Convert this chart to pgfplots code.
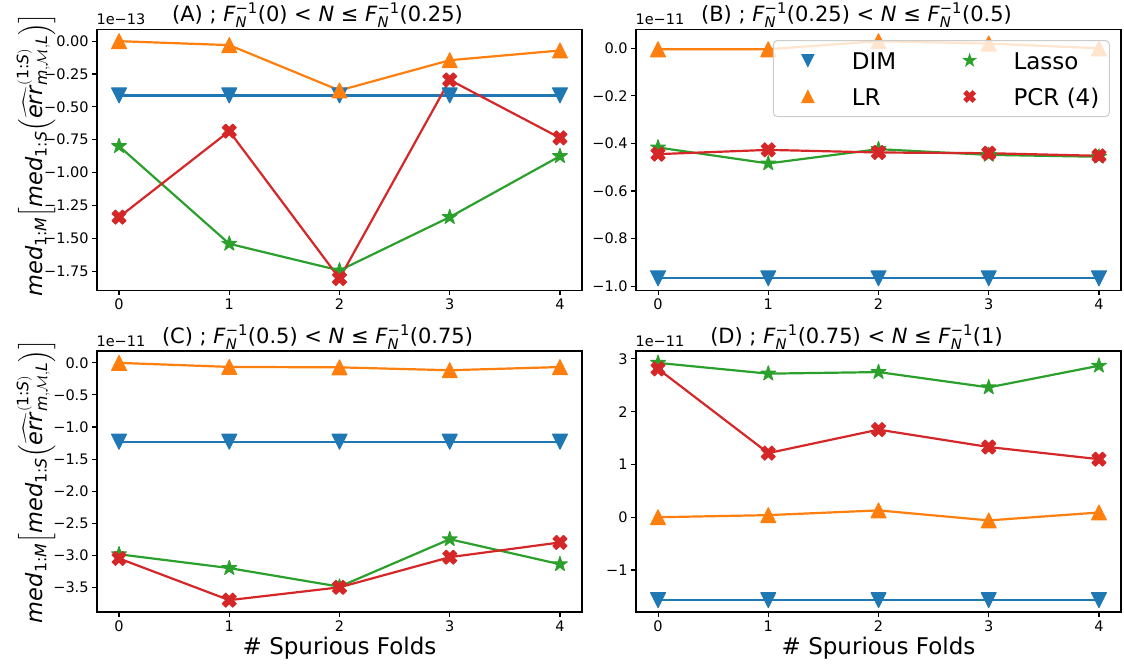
\documentclass[border=0pt]{standalone}
\usepackage{amsmath}
\usepackage{pgfplots}
\pgfplotsset{compat=1.18}
\usepackage{fontspec}
\setmainfont{DejaVu Sans}

\definecolor{tabblue}{HTML}{1F77B4}
\definecolor{taborange}{HTML}{FF7F0E}
\definecolor{tabgreen}{HTML}{2CA02C}
\definecolor{tabred}{HTML}{D62728}

\newcommand\tickfont{\fontsize{14.5}{17}\selectfont}
\newcommand\titlefont{\fontsize{21}{25}\selectfont}
\newcommand\labfont{\fontsize{23}{27}\selectfont}
\newcommand\ylabfont{\fontsize{22.5}{27}\selectfont}
\newcommand\legfont{\fontsize{23}{27}\selectfont}

\pgfdeclareplotmark{mtriup}{%
 \pgfpathmoveto{\pgfpoint{0pt}{\pgfplotmarksize}}%
 \pgfpathlineto{\pgfpoint{-\pgfplotmarksize}{-\pgfplotmarksize}}%
 \pgfpathlineto{\pgfpoint{\pgfplotmarksize}{-\pgfplotmarksize}}%
 \pgfpathclose\pgfusepathqfillstroke}
\pgfdeclareplotmark{mtridown}{%
 \pgfpathmoveto{\pgfpoint{0pt}{-\pgfplotmarksize}}%
 \pgfpathlineto{\pgfpoint{-\pgfplotmarksize}{\pgfplotmarksize}}%
 \pgfpathlineto{\pgfpoint{\pgfplotmarksize}{\pgfplotmarksize}}%
 \pgfpathclose\pgfusepathqfillstroke}
\pgfdeclareplotmark{mstar}{%
 \pgfpathmoveto{\pgfpointpolar{90}{\pgfplotmarksize}}%
 \pgfpathlineto{\pgfpointpolar{126}{0.382\pgfplotmarksize}}%
 \pgfpathlineto{\pgfpointpolar{162}{\pgfplotmarksize}}%
 \pgfpathlineto{\pgfpointpolar{198}{0.382\pgfplotmarksize}}%
 \pgfpathlineto{\pgfpointpolar{234}{\pgfplotmarksize}}%
 \pgfpathlineto{\pgfpointpolar{270}{0.382\pgfplotmarksize}}%
 \pgfpathlineto{\pgfpointpolar{306}{\pgfplotmarksize}}%
 \pgfpathlineto{\pgfpointpolar{342}{0.382\pgfplotmarksize}}%
 \pgfpathlineto{\pgfpointpolar{18}{\pgfplotmarksize}}%
 \pgfpathlineto{\pgfpointpolar{54}{0.382\pgfplotmarksize}}%
 \pgfpathclose\pgfusepathqfillstroke}
\pgfdeclareplotmark{mX}{%
 \pgftransformrotate{45}%
 \pgfpathmoveto{\pgfpoint{0.333\pgfplotmarksize}{\pgfplotmarksize}}%
 \pgfpathlineto{\pgfpoint{0.333\pgfplotmarksize}{0.333\pgfplotmarksize}}%
 \pgfpathlineto{\pgfpoint{\pgfplotmarksize}{0.333\pgfplotmarksize}}%
 \pgfpathlineto{\pgfpoint{\pgfplotmarksize}{-0.333\pgfplotmarksize}}%
 \pgfpathlineto{\pgfpoint{0.333\pgfplotmarksize}{-0.333\pgfplotmarksize}}%
 \pgfpathlineto{\pgfpoint{0.333\pgfplotmarksize}{-\pgfplotmarksize}}%
 \pgfpathlineto{\pgfpoint{-0.333\pgfplotmarksize}{-\pgfplotmarksize}}%
 \pgfpathlineto{\pgfpoint{-0.333\pgfplotmarksize}{-0.333\pgfplotmarksize}}%
 \pgfpathlineto{\pgfpoint{-\pgfplotmarksize}{-0.333\pgfplotmarksize}}%
 \pgfpathlineto{\pgfpoint{-\pgfplotmarksize}{0.333\pgfplotmarksize}}%
 \pgfpathlineto{\pgfpoint{-0.333\pgfplotmarksize}{0.333\pgfplotmarksize}}%
 \pgfpathlineto{\pgfpoint{-0.333\pgfplotmarksize}{\pgfplotmarksize}}%
 \pgfpathclose\pgfusepathqfillstroke}

\pgfplotsset{
 every axis title shift=0pt,
 common/.style={
  scale only axis, width=485pt, height=261pt, anchor=north west,
  xmin=-0.2, xmax=4.2, xtick={0,1,2,3,4}, xticklabels={0,1,2,3,4},
  tick align=outside, tick pos=left, major tick length=4.9pt,
  tick style={black, line width=1.1pt},
  axis line style={line width=1.1pt},
  tick label style={font=\tickfont},
  title style={at={(0.5,1)}, anchor=base, yshift=8pt, xshift=-22pt, font=\titlefont},
  xlabel style={at={(0.5,0)}, anchor=base, yshift=-42pt, font=\labfont},
 },
 sDIM/.style={color=tabblue, line width=2.2pt, line join=round, mark=mtridown, mark size=7.5pt, mark options={solid, fill=tabblue, line width=1pt}},
 sLR/.style={color=taborange, line width=2.2pt, line join=round, mark=mtriup, mark size=7.5pt, mark options={solid, fill=taborange, line width=1pt}},
 sLasso/.style={color=tabgreen, line width=2.2pt, line join=round, mark=mstar, mark size=7.8pt, mark options={solid, fill=tabgreen, line width=1pt}},
 sPCR/.style={color=tabred, line width=2.2pt, line join=round, mark=mX, mark size=7.5pt, mark options={solid, fill=tabred, line width=1pt}},
}

\newcommand\offs[1]{\node[anchor=base west, font=\tickfont] at (rel axis cs:0,1) [xshift=-4pt, yshift=4.5pt] {#1};}
\newcommand\Finv{\textit{F}$^{\text{−1}}_{\textit{N}}$}
\newcommand\ylab{\textit{med}$_{\text{1:}\textit{M}}\!\left[\text{\textit{med}}_{\text{1:}\textit{S}}\!\left(\widehat{\text{\textit{err}}}^{(\text{1:}\textit{S})}_{\textit{m},\mathcal{M},\textit{L}}\right)\right]$}

\begin{document}
\begin{tikzpicture}
\path[use as bounding box] (0pt,0pt) rectangle (1124pt,-664pt);

% (A)
\begin{axis}[common, at={(97pt,-29.3pt)},
  ymin=-1.896, ymax=0.0903,
  ytick={-1.75,-1.5,-1.25,-1,-0.75,-0.5,-0.25,0},
  yticklabels={−1.75,−1.50,−1.25,−1.00,−0.75,−0.50,−0.25,0.00},
  title={(A) ; \Finv(0) < \textit{N} ≤ \Finv(0.25)},
  after end axis/.code={\offs{1e−13}}]
\addplot[sDIM] coordinates {(0,-0.413) (1,-0.413) (2,-0.413) (3,-0.413) (4,-0.413)};
\addplot[sLR] coordinates {(0,0.0) (1,-0.03) (2,-0.375) (3,-0.145) (4,-0.071)};
\addplot[sLasso] coordinates {(0,-0.799) (1,-1.542) (2,-1.745) (3,-1.339) (4,-0.875)};
\addplot[sPCR] coordinates {(0,-1.339) (1,-0.685) (2,-1.806) (3,-0.295) (4,-0.736)};
\end{axis}

% (B)
\begin{axis}[common, at={(636pt,-29.3pt)},
  ymin=-1.0174, ymax=0.0799,
  ytick={-1,-0.8,-0.6,-0.4,-0.2,0},
  yticklabels={−1.0,−0.8,−0.6,−0.4,−0.2,0.0},
  title={(B) ; \Finv(0.25) < \textit{N} ≤ \Finv(0.5)},
  after end axis/.code={\offs{1e−11}},
  legend columns=2, legend cell align=left,
  legend image code/.code={\path (0pt,0pt) (28pt,0pt); \draw[#1, fill opacity=1, draw opacity=1] plot coordinates {(24pt,0pt)};},
  legend style={at={(0.977,0.959)}, anchor=north east, draw=black!20, line width=1pt,
    rounded corners=4pt, fill=white, fill opacity=0.8, draw opacity=1, text opacity=1,
    font=\legfont, inner xsep=10pt, inner ysep=9pt,
    nodes={inner sep=0pt, text height=20pt, text depth=2pt}, row sep=14pt,
    /tikz/every odd column/.append style={column sep=38pt},
    /tikz/every even column/.append style={column sep=49pt}}]
\addlegendimage{only marks, mark=mtridown, mark size=6pt, color=tabblue, mark options={fill=tabblue, line width=1pt}}
\addlegendentry{DIM}
\addlegendimage{only marks, mark=mstar, mark size=6.2pt, color=tabgreen, mark options={fill=tabgreen, line width=1pt}}
\addlegendentry{Lasso}
\addlegendimage{only marks, mark=mtriup, mark size=6pt, color=taborange, mark options={fill=taborange, line width=1pt}}
\addlegendentry{LR}
\addlegendimage{only marks, mark=mX, mark size=6pt, color=tabred, mark options={fill=tabred, line width=1pt}}
\addlegendentry{PCR (4)}
\addplot[sDIM, forget plot] coordinates {(0,-0.967) (1,-0.967) (2,-0.967) (3,-0.967) (4,-0.967)};
\addplot[sLR, forget plot] coordinates {(0,-0.004) (1,-0.004) (2,0.03) (3,0.02) (4,0.0)};
\addplot[sLasso, forget plot] coordinates {(0,-0.417) (1,-0.484) (2,-0.424) (3,-0.448) (4,-0.456)};
\addplot[sPCR, forget plot] coordinates {(0,-0.445) (1,-0.427) (2,-0.438) (3,-0.441) (4,-0.452)};
\end{axis}

% (C)
\begin{axis}[common, at={(97pt,-351pt)},
  ymin=-3.885, ymax=0.185,
  ytick={-3.5,-3,-2.5,-2,-1.5,-1,-0.5,0},
  yticklabels={−3.5,−3.0,−2.5,−2.0,−1.5,−1.0,−0.5,0.0},
  title={(C) ; \Finv(0.5) < \textit{N} ≤ \Finv(0.75)},
  xlabel={\# Spurious Folds},
  after end axis/.code={\offs{1e−11}}]
\addplot[sDIM] coordinates {(0,-1.23) (1,-1.23) (2,-1.23) (3,-1.23) (4,-1.23)};
\addplot[sLR] coordinates {(0,0.0) (1,-0.063) (2,-0.07) (3,-0.115) (4,-0.065)};
\addplot[sLasso] coordinates {(0,-2.985) (1,-3.20) (2,-3.49) (3,-2.75) (4,-3.14)};
\addplot[sPCR] coordinates {(0,-3.05) (1,-3.70) (2,-3.50) (3,-3.03) (4,-2.80)};
\end{axis}

% (D)
\begin{axis}[common, at={(636pt,-351pt)},
  ymin=-1.795, ymax=3.149,
  ytick={-1,0,1,2,3},
  yticklabels={−1,0,1,2,3},
  title={(D) ; \Finv(0.75) < \textit{N} ≤ \Finv(1)},
  xlabel={\# Spurious Folds},
  after end axis/.code={\offs{1e−11}}]
\addplot[sDIM] coordinates {(0,-1.57) (1,-1.57) (2,-1.57) (3,-1.57) (4,-1.57)};
\addplot[sLR] coordinates {(0,0.0) (1,0.04) (2,0.13) (3,-0.06) (4,0.09)};
\addplot[sLasso] coordinates {(0,2.924) (1,2.72) (2,2.75) (3,2.46) (4,2.87)};
\addplot[sPCR] coordinates {(0,2.81) (1,1.215) (2,1.66) (3,1.33) (4,1.10)};
\end{axis}

\node[rotate=90, anchor=base, font=\ylabfont] at (42pt,-155pt) {\ylab};
\node[rotate=90, anchor=base, font=\ylabfont] at (42pt,-481.5pt) {\ylab};
\end{tikzpicture}
\end{document}
